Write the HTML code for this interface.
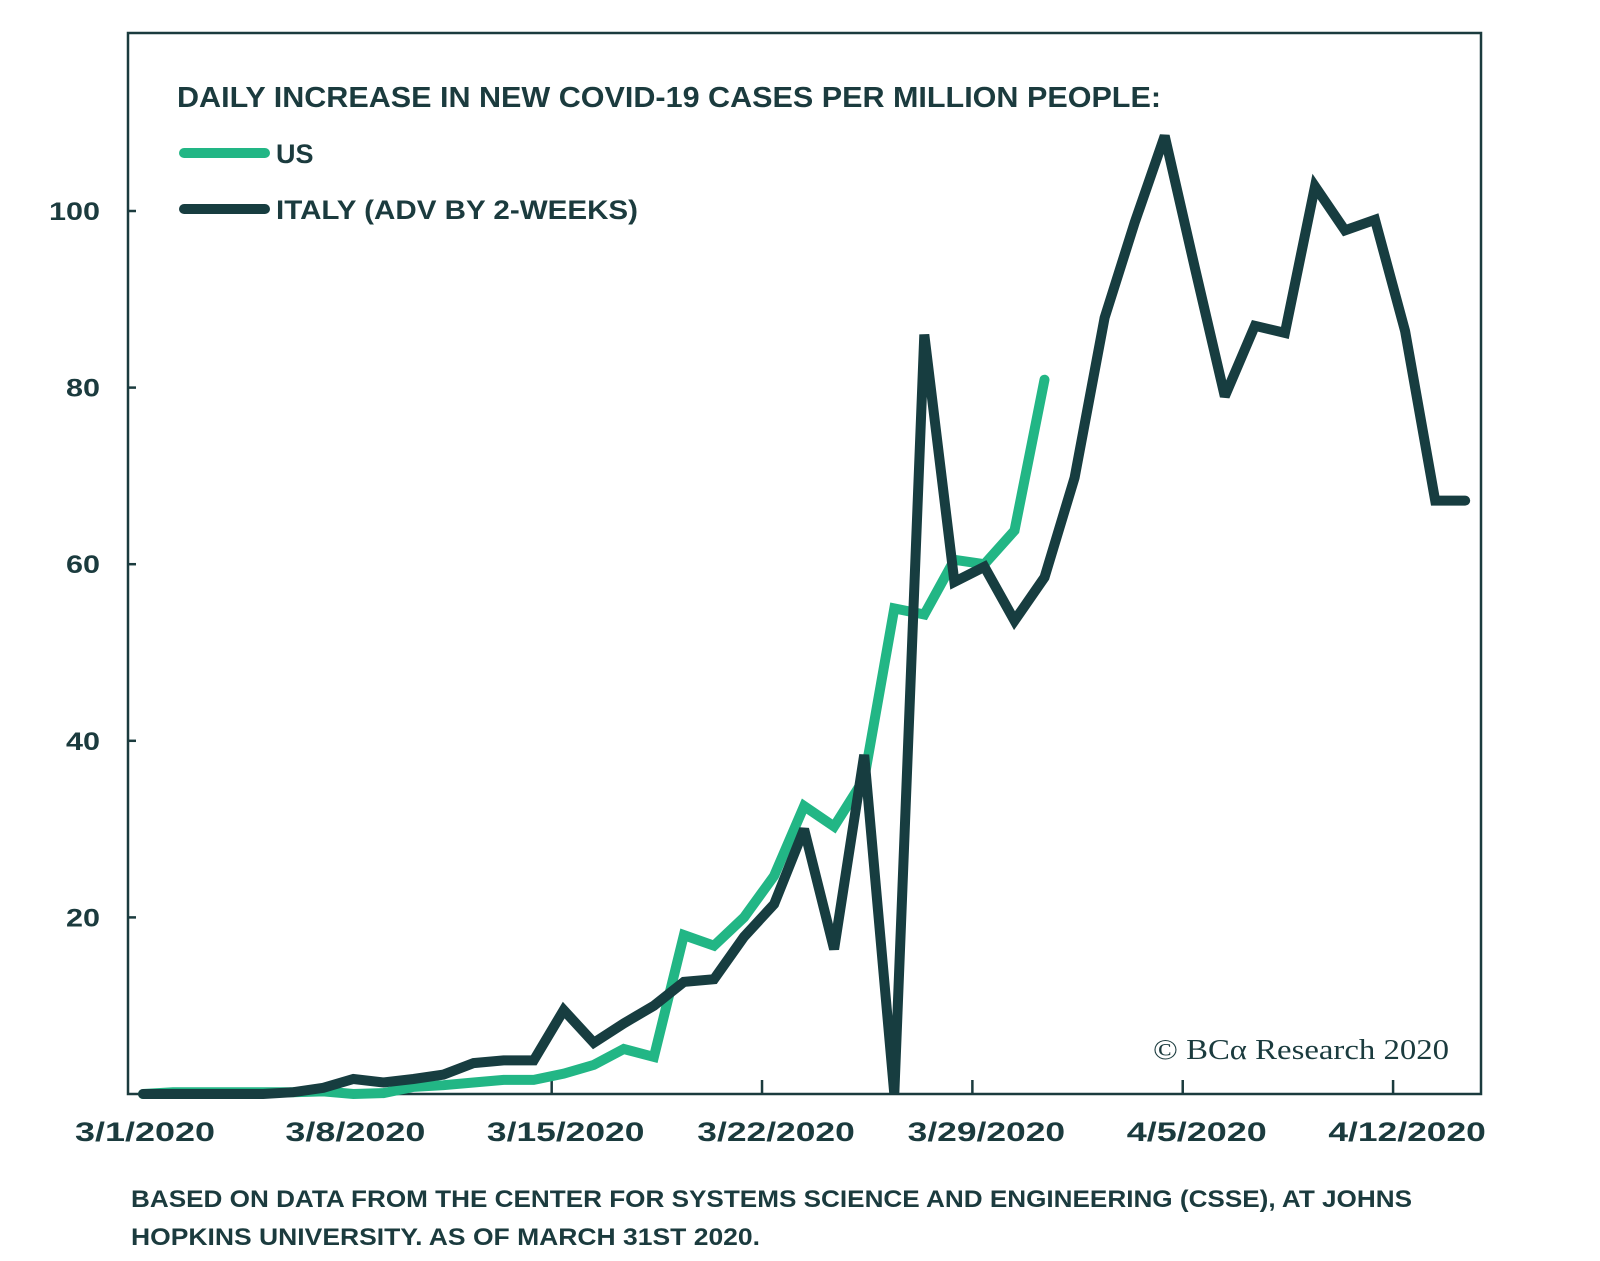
<!DOCTYPE html>
<html><head><meta charset="utf-8"><style>
html,body{margin:0;padding:0;background:#fff;}
svg{display:block;}
text{font-family:"Liberation Sans",sans-serif;font-weight:bold;fill:#1b3b3e;}
</style></head><body>
<svg id="chart" width="1600" height="1261" viewBox="0 0 1600 1261" xmlns="http://www.w3.org/2000/svg">
<rect x="128" y="33" width="1353" height="1061" fill="none" stroke="#1b3b3e" stroke-width="2.5"/>
<text x="177" y="107" font-size="29" textLength="984" lengthAdjust="spacingAndGlyphs">DAILY INCREASE IN NEW COVID-19 CASES PER MILLION PEOPLE:</text>
<line x1="184" y1="153" x2="265" y2="153" stroke="#22b685" stroke-width="10" stroke-linecap="round"/>
<text x="276" y="163" font-size="27">US</text>
<line x1="184" y1="209" x2="265" y2="209" stroke="#173d40" stroke-width="10" stroke-linecap="round"/>
<text x="276" y="219" font-size="27" textLength="362" lengthAdjust="spacingAndGlyphs">ITALY (ADV BY 2-WEEKS)</text>
<text x="1153" y="1059" font-size="28" textLength="296" lengthAdjust="spacingAndGlyphs" style="font-family:'Liberation Serif',serif;font-weight:normal">© BCα Research 2020</text>
<text x="131" y="1207" font-size="24" textLength="1281" lengthAdjust="spacingAndGlyphs">BASED ON DATA FROM THE CENTER FOR SYSTEMS SCIENCE AND ENGINEERING (CSSE), AT JOHNS</text>
<text x="131" y="1245" font-size="24" textLength="629" lengthAdjust="spacingAndGlyphs">HOPKINS UNIVERSITY. AS OF MARCH 31ST 2020.</text>
<g id="axes"></g>
<g id="series"></g>
</svg>
<script>
const yTicks = [20, 40, 60, 80, 100];
const xLabels = ["3/1/2020","3/8/2020","3/15/2020","3/22/2020","3/29/2020","4/5/2020","4/12/2020"];
const xLabelDays = [0, 7, 14, 21, 28, 35, 42];
const xTickDays = [13.6, 20.6, 27.6, 34.6, 41.6];
const usValues = [0,0.2,0.2,0.2,0.2,0.2,0.3,0,0.1,0.8,1,1.3,1.6,1.6,2.3,3.3,5.1,4.2,18,16.8,20,24.7,32.6,30.3,35.7,55,54.3,60.5,60,63.8,80.9];
const italyValues = [0,0,0,0,0,0.2,0.7,1.7,1.3,1.7,2.2,3.5,3.8,3.8,9.5,5.8,8,10,12.7,13,17.8,21.5,30,16.4,38.4,0,86,58,59.7,53.6,58.5,69.8,87.9,98.7,108.5,93.6,79,87,86.2,102.8,97.8,99,86.4,67.2,67.2];

const NS = "http://www.w3.org/2000/svg";
function xScale(d){ return 143 + 30.05*d; }
function yScale(v){ return 1094 - 8.83*v; }
const axes = document.getElementById('axes');
const series = document.getElementById('series');
function mk(tag, attrs, parent){ const e=document.createElementNS(NS,tag); for(const k in attrs) e.setAttribute(k,attrs[k]); parent.appendChild(e); return e; }

yTicks.forEach(v=>{
  const t = mk('line',{x1:128,x2:136,y1:yScale(v),y2:yScale(v),stroke:'#1b3b3e','stroke-width':2.5},axes);
  
  
  const s = String(v);
  const l = mk('text',{x:100,y:yScale(v)+9,'font-size':25,'text-anchor':'end',textLength:17*s.length,lengthAdjust:'spacingAndGlyphs'},axes);
  l.textContent = s;
  
  
});
xTickDays.forEach(d=>{
  const t = mk('line',{x1:xScale(d),x2:xScale(d),y1:1094,y2:1080,stroke:'#1b3b3e','stroke-width':2.5},axes);
  
  
});
xLabels.forEach((s,i)=>{
  const l = mk('text',{x:xScale(xLabelDays[i])+2,y:1141,'font-size':27,'text-anchor':'middle',textLength:17.5*s.length,lengthAdjust:'spacingAndGlyphs'},axes);
  l.textContent = s;
  
  
});
function line(vals, color, name){
  const pts = vals.map((v,i)=>xScale(i).toFixed(1)+','+yScale(v).toFixed(1)).join(' ');
  const p = mk('polyline',{points:pts,fill:'none',stroke:color,'stroke-width':10,'stroke-linejoin':'miter','stroke-miterlimit':3,'stroke-linecap':'round'},series);
  
  
}
line(usValues,'#22b685','us-line');
line(italyValues,'#173d40','italy-line');
</script>
</body></html>
